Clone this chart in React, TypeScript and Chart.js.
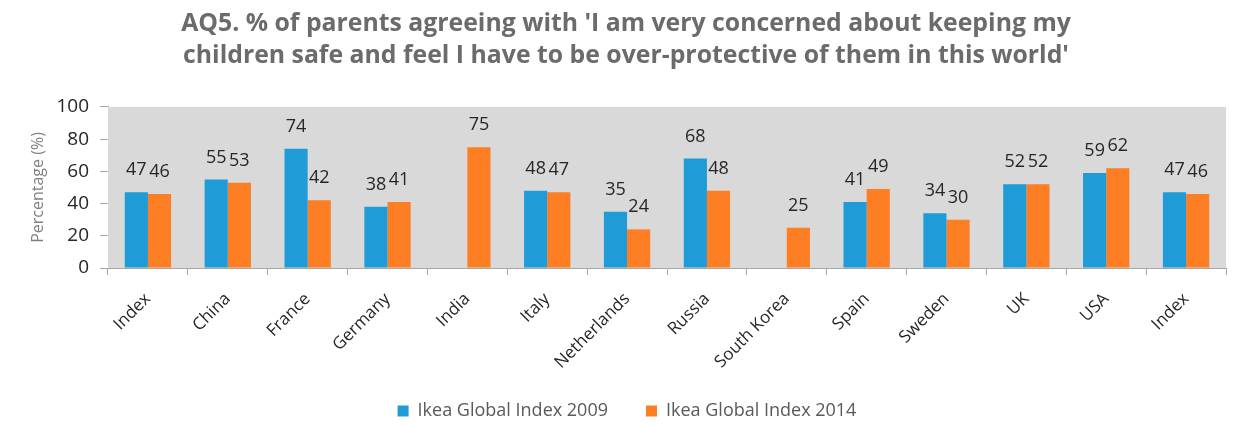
import React, { useEffect, useRef } from "react";
import { Chart, registerables } from "chart.js";

Chart.register(...registerables);

const categories = ["Index", "China", "France", "Germany", "India", "Italy", "Netherlands", "Russia", "South Korea", "Spain", "Sweden", "UK", "USA", "Index"];
const values2009: (number | null)[] = [47, 55, 74, 38, null, 48, 35, 68, null, 41, 34, 52, 59, 47];
const values2014: (number | null)[] = [46, 53, 42, 41, 75, 47, 24, 48, 25, 49, 30, 52, 62, 46];
const seriesNames = ["Ikea Global Index 2009", "Ikea Global Index 2014"];
const titleLines = [
  "AQ5. % of parents agreeing with 'I am very concerned about keeping my",
  "children safe and feel I have to be over-protective of them in this world'",
];
const yTicks = [0, 20, 40, 60, 80, 100];

const FONT = "'Open Sans', sans-serif";

const bgPlugin = {
  id: "plotBg",
  afterLayout(chart: any) {
    const lg = chart.legend;
    if (lg) {
      lg.left += 14;
      lg.right += 14;
      lg.top += 4;
      lg.bottom += 4;
    }
    const tb = chart.titleBlock;
    if (tb) {
      tb.left += 13;
      tb.right += 13;
    }
    const xs = chart.scales.x;
    if (xs) {
      xs.bottom = chart.height;
    }
  },
  beforeDatasetsDraw(chart: any) {
    const { ctx, chartArea } = chart;
    ctx.save();
    ctx.fillStyle = "#d9d9d9";
    ctx.fillRect(chartArea.left, chartArea.top, chartArea.right - chartArea.left, chartArea.bottom - chartArea.top);
    ctx.restore();
  },
};

const labelPlugin = {
  id: "valueLabels",
  afterDatasetsDraw(chart: any) {
    const { ctx } = chart;
    ctx.save();
    ctx.font = `18px ${FONT}`;
    ctx.fillStyle = "#262626";
    ctx.textAlign = "center";
    ctx.textBaseline = "middle";
    chart.data.datasets.forEach((ds: any, di: number) => {
      const meta = chart.getDatasetMeta(di);
      meta.data.forEach((el: any, i: number) => {
        const v = ds.data[i];
        if (v === null || v === undefined) return;
        ctx.fillText(String(v), el.x, el.y - 22);
      });
    });
    ctx.restore();
  },
};

export default function App() {
  const ref = useRef<HTMLCanvasElement>(null);
  useEffect(() => {
    if (!ref.current) return;
    const chart = new Chart(ref.current, {
      type: "bar",
      data: {
        labels: categories,
        datasets: [
          { label: seriesNames[0], data: values2009, backgroundColor: "#1f9bd7", borderWidth: 0, barPercentage: 1, categoryPercentage: 0.58 },
          { label: seriesNames[1], data: values2014, backgroundColor: "#fd7e23", borderWidth: 0, barPercentage: 1, categoryPercentage: 0.58 },
        ],
      },
      options: {
        responsive: false,
        animation: false,
        layout: { padding: { left: 0, right: 23, top: 0, bottom: 0 } },
        plugins: {
          title: {
            display: true,
            text: titleLines,
            color: "#6b6b6b",
            font: { family: FONT, size: 24.8, weight: "bold", lineHeight: 1.29 },
            padding: { top: 8, bottom: 35 },
          },
          legend: {
            position: "bottom",
            labels: {
              boxWidth: 11,
              boxHeight: 11,
              color: "#595959",
              font: { family: FONT, size: 18 },
              padding: 38,
            },
          },
          tooltip: { enabled: false },
        },
        scales: {
          x: {
            grid: { drawOnChartArea: false, drawTicks: true, tickLength: 7, color: "#a6a6a6", offset: true },
            border: { display: true, color: "#a6a6a6" },
            ticks: {
              autoSkip: false,
              minRotation: 45,
              maxRotation: 45,
              color: "#262626",
              font: { family: FONT, size: 17 },
              padding: 14,
            },
            afterFit(scale: any) {
              scale.height = 92;
            },
          },
          y: {
            min: 0,
            max: 100,
            afterBuildTicks(scale: any) {
              scale.ticks = yTicks.map((v) => ({ value: v }));
            },
            grid: { drawOnChartArea: false, drawTicks: true, tickLength: 8, color: "#a6a6a6" },
            border: { display: true, color: "#a6a6a6" },
            ticks: { color: "#262626", font: { family: FONT, size: 19 }, padding: 11 },
            title: {
              display: true,
              text: "Percentage (%)",
              color: "#808080",
              font: { family: FONT, size: 16 },
              padding: { top: 29, bottom: 0 },
            },
            afterFit(scale: any) {
              scale.width = 108;
            },
          },
        },
      },
      plugins: [bgPlugin, labelPlugin],
    });
    return () => chart.destroy();
  }, []);
  return (
    <div style={{ position: "fixed", left: 0, top: 0, width: 1249, height: 426, background: "#fff" }}>
      <canvas ref={ref} width={1249} height={426} />
    </div>
  );
}
